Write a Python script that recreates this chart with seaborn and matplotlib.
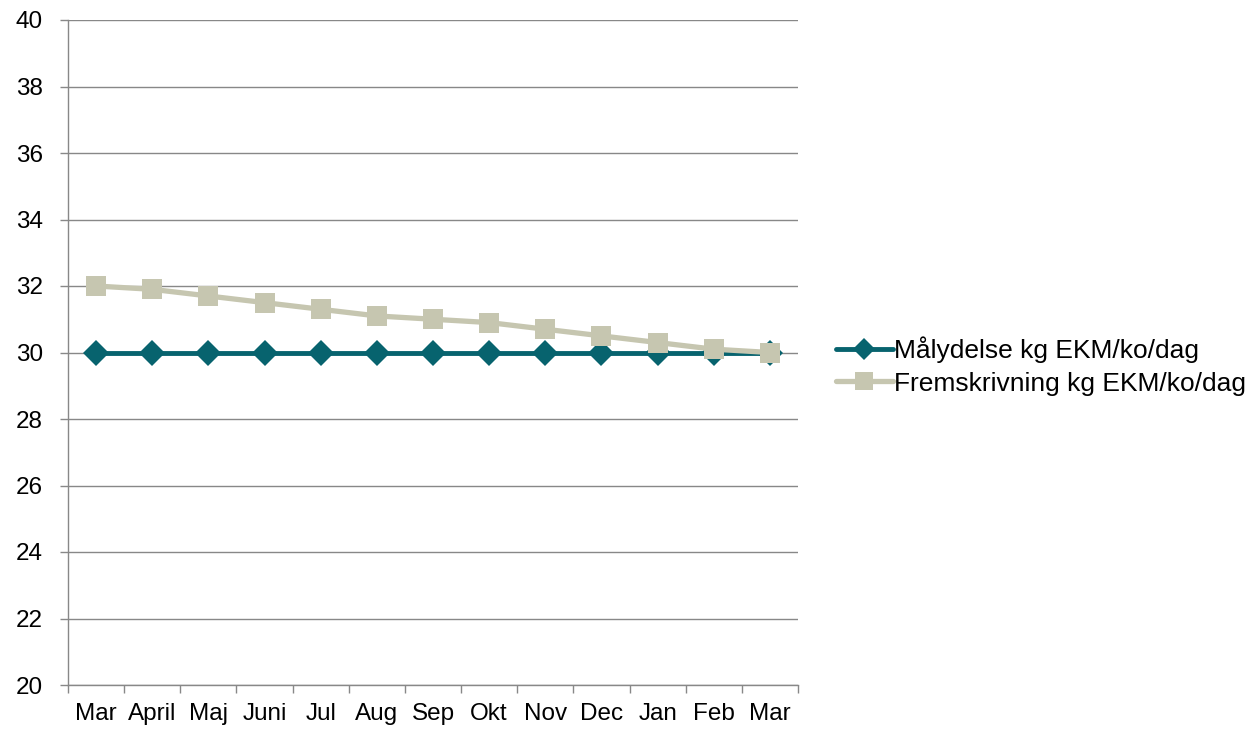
import matplotlib
matplotlib.use("Agg")
import matplotlib.pyplot as plt
import seaborn as sns
import pandas as pd
import numpy as np
from matplotlib.ticker import FixedLocator, MultipleLocator

months = ["Mar", "April", "Maj", "Juni", "Jul", "Aug", "Sep", "Okt", "Nov", "Dec", "Jan", "Feb", "Mar"]
maal = [30, 30, 30, 30, 30, 30, 30, 30, 30, 30, 30, 30, 30]
frem = [32.0, 31.9, 31.7, 31.5, 31.3, 31.1, 31.0, 30.9, 30.7, 30.5, 30.3, 30.1, 30.0]
s1 = "Målydelse kg EKM/ko/dag"
s2 = "Fremskrivning kg EKM/ko/dag"

sns.set_style("white")
plt.rcParams['font.family'] = ['Liberation Sans', 'DejaVu Sans']
plt.rcParams['text.color'] = 'black'
tsize, lsize = 17.5, 19

fig = plt.figure(figsize=(12.56, 7.30), dpi=100)
ax = fig.add_axes([68/1256, 1 - 685/730, 730/1256, 665/730])

pos = np.arange(len(months))
df1 = pd.DataFrame({"x": pos, "y": maal})
df2 = pd.DataFrame({"x": pos, "y": frem})
teal = "#07636E"
beige = "#C6C6B0"
sns.lineplot(data=df1, x="x", y="y", ax=ax, color=teal, lw=3.5, marker="D", markersize=13,
             markeredgewidth=0, label=s1, zorder=3)
sns.lineplot(data=df2, x="x", y="y", ax=ax, color=beige, lw=3.8, marker="s", markersize=14.5,
             markeredgewidth=0, label=s2, zorder=4)

ax.set_xlim(-0.5, len(months) - 0.5)
ax.set_ylim(20, 40)
ax.yaxis.set_major_locator(MultipleLocator(2))
ax.set_xticks(pos)
ax.set_xticklabels(months)
ax.xaxis.set_minor_locator(FixedLocator(np.arange(-0.5, len(months), 1.0)))
ax.tick_params(axis="x", which="major", length=0, labelsize=tsize, pad=13, labelcolor="black")
ax.tick_params(axis="x", which="minor", length=6, width=1, color="#888888", direction="out", bottom=True)
ax.tick_params(axis="y", length=6, width=1, color="#888888", labelsize=tsize, pad=12, left=True,
               direction="out", labelcolor="black")
ax.grid(axis="y", color="#888888", lw=1)
ax.set_axisbelow(True)
for s in ["top", "right"]:
    ax.spines[s].set_visible(False)
for s in ["left", "bottom"]:
    ax.spines[s].set_color("#888888")
    ax.spines[s].set_linewidth(1)
ax.set_xlabel("")
ax.set_ylabel("")

leg = ax.legend(loc="center left", bbox_to_anchor=(836/1256, 1 - 366/730), bbox_transform=fig.transFigure,
                frameon=False, fontsize=lsize, handlelength=2.15, handletextpad=0.05,
                labelspacing=0.32, borderaxespad=0, borderpad=0)
for t in leg.get_texts():
    t.set_color("black")
for h in leg.legend_handles:
    h.set_markersize(h.get_markersize() * 0.85)

fig.savefig("out.png", dpi=100)
